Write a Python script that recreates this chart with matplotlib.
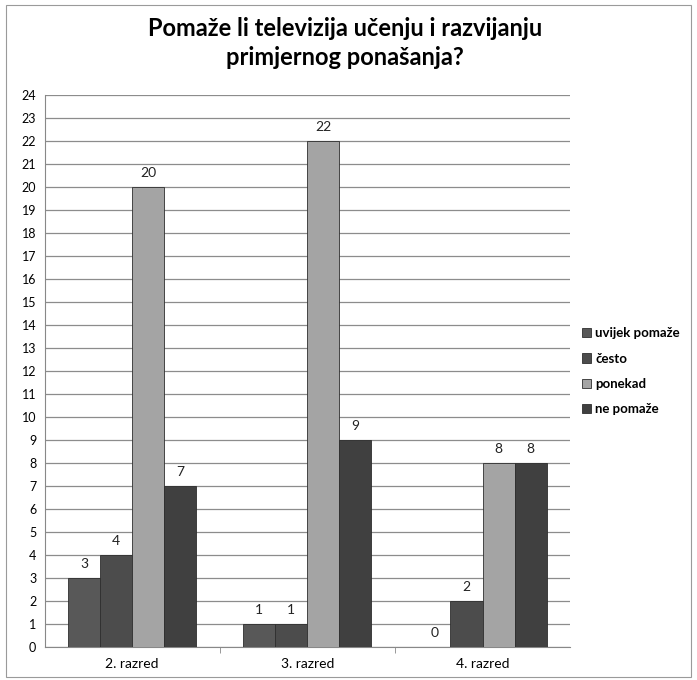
import numpy as np
import matplotlib
matplotlib.use('Agg')
import matplotlib.pyplot as plt
from matplotlib.patches import Rectangle

plt.rcParams['font.family'] = ['Lato', 'DejaVu Sans']

categories = ['2. razred', '3. razred', '4. razred']
series = ['uvijek pomaže', 'često', 'ponekad', 'ne pomaže']
uvijek = [3, 1, 0]
cesto = [4, 1, 2]
ponekad = [20, 22, 8]
ne_pomaze = [7, 9, 8]
values = [uvijek, cesto, ponekad, ne_pomaze]
colors = ['#585858', '#4c4c4c', '#a4a4a4', '#404040']

fig = plt.figure(figsize=(6.97, 6.80), dpi=100)
fig.patch.set_facecolor('white')
fig.add_artist(Rectangle((0.008, 0.005), 0.983, 0.987, transform=fig.transFigure,
                         fill=False, edgecolor='#9a9a9a', linewidth=0.8))

ax = fig.add_axes([0.064, 0.048, 0.754, 0.812])
x = np.arange(len(categories))
w = 0.183
for i, (vals, c) in enumerate(zip(values, colors)):
    pos = x + (i - 1.5) * w
    bars = ax.bar(pos, vals, width=w, color=c, edgecolor='#2e2e2e', linewidth=0.6,
                  label=series[i], zorder=3)
    for b, v in zip(bars, vals):
        ax.text(b.get_x() + b.get_width() / 2, v + 0.35, str(v), ha='center',
                va='bottom', fontsize=10, color='#222222')

ax.set_xlim(-0.5, 2.5)
ax.set_ylim(0, 24)
ax.set_yticks(range(0, 25))
ax.tick_params(axis='y', labelsize=9, length=0, pad=6)
ax.set_xticks(x)
ax.set_xticklabels(categories, fontsize=10)
ax.set_xticks([0.5, 1.5], minor=True)
ax.tick_params(axis='x', which='major', length=0, pad=8)
ax.tick_params(axis='x', which='minor', length=4, color='#888888')
ax.grid(axis='y', color='#8c8c8c', linewidth=0.9, zorder=0)
for s in ['top', 'right']:
    ax.spines[s].set_visible(False)
ax.spines['left'].set_color('#888888')
ax.spines['bottom'].set_color('#888888')

fig.suptitle('Pomaže li televizija učenju i razvijanju\nprimjernog ponašanja?',
             x=0.495, y=0.975, fontsize=17, fontweight='bold', linespacing=1.3)

ax.legend(loc='center left', bbox_to_anchor=(1.0, 0.5), frameon=False,
          prop={'size': 9.5, 'weight': 'bold'}, handlelength=0.7,
          handleheight=0.7, handletextpad=0.3, labelspacing=1.0)

fig.savefig('out.png', dpi=100, facecolor='white')
